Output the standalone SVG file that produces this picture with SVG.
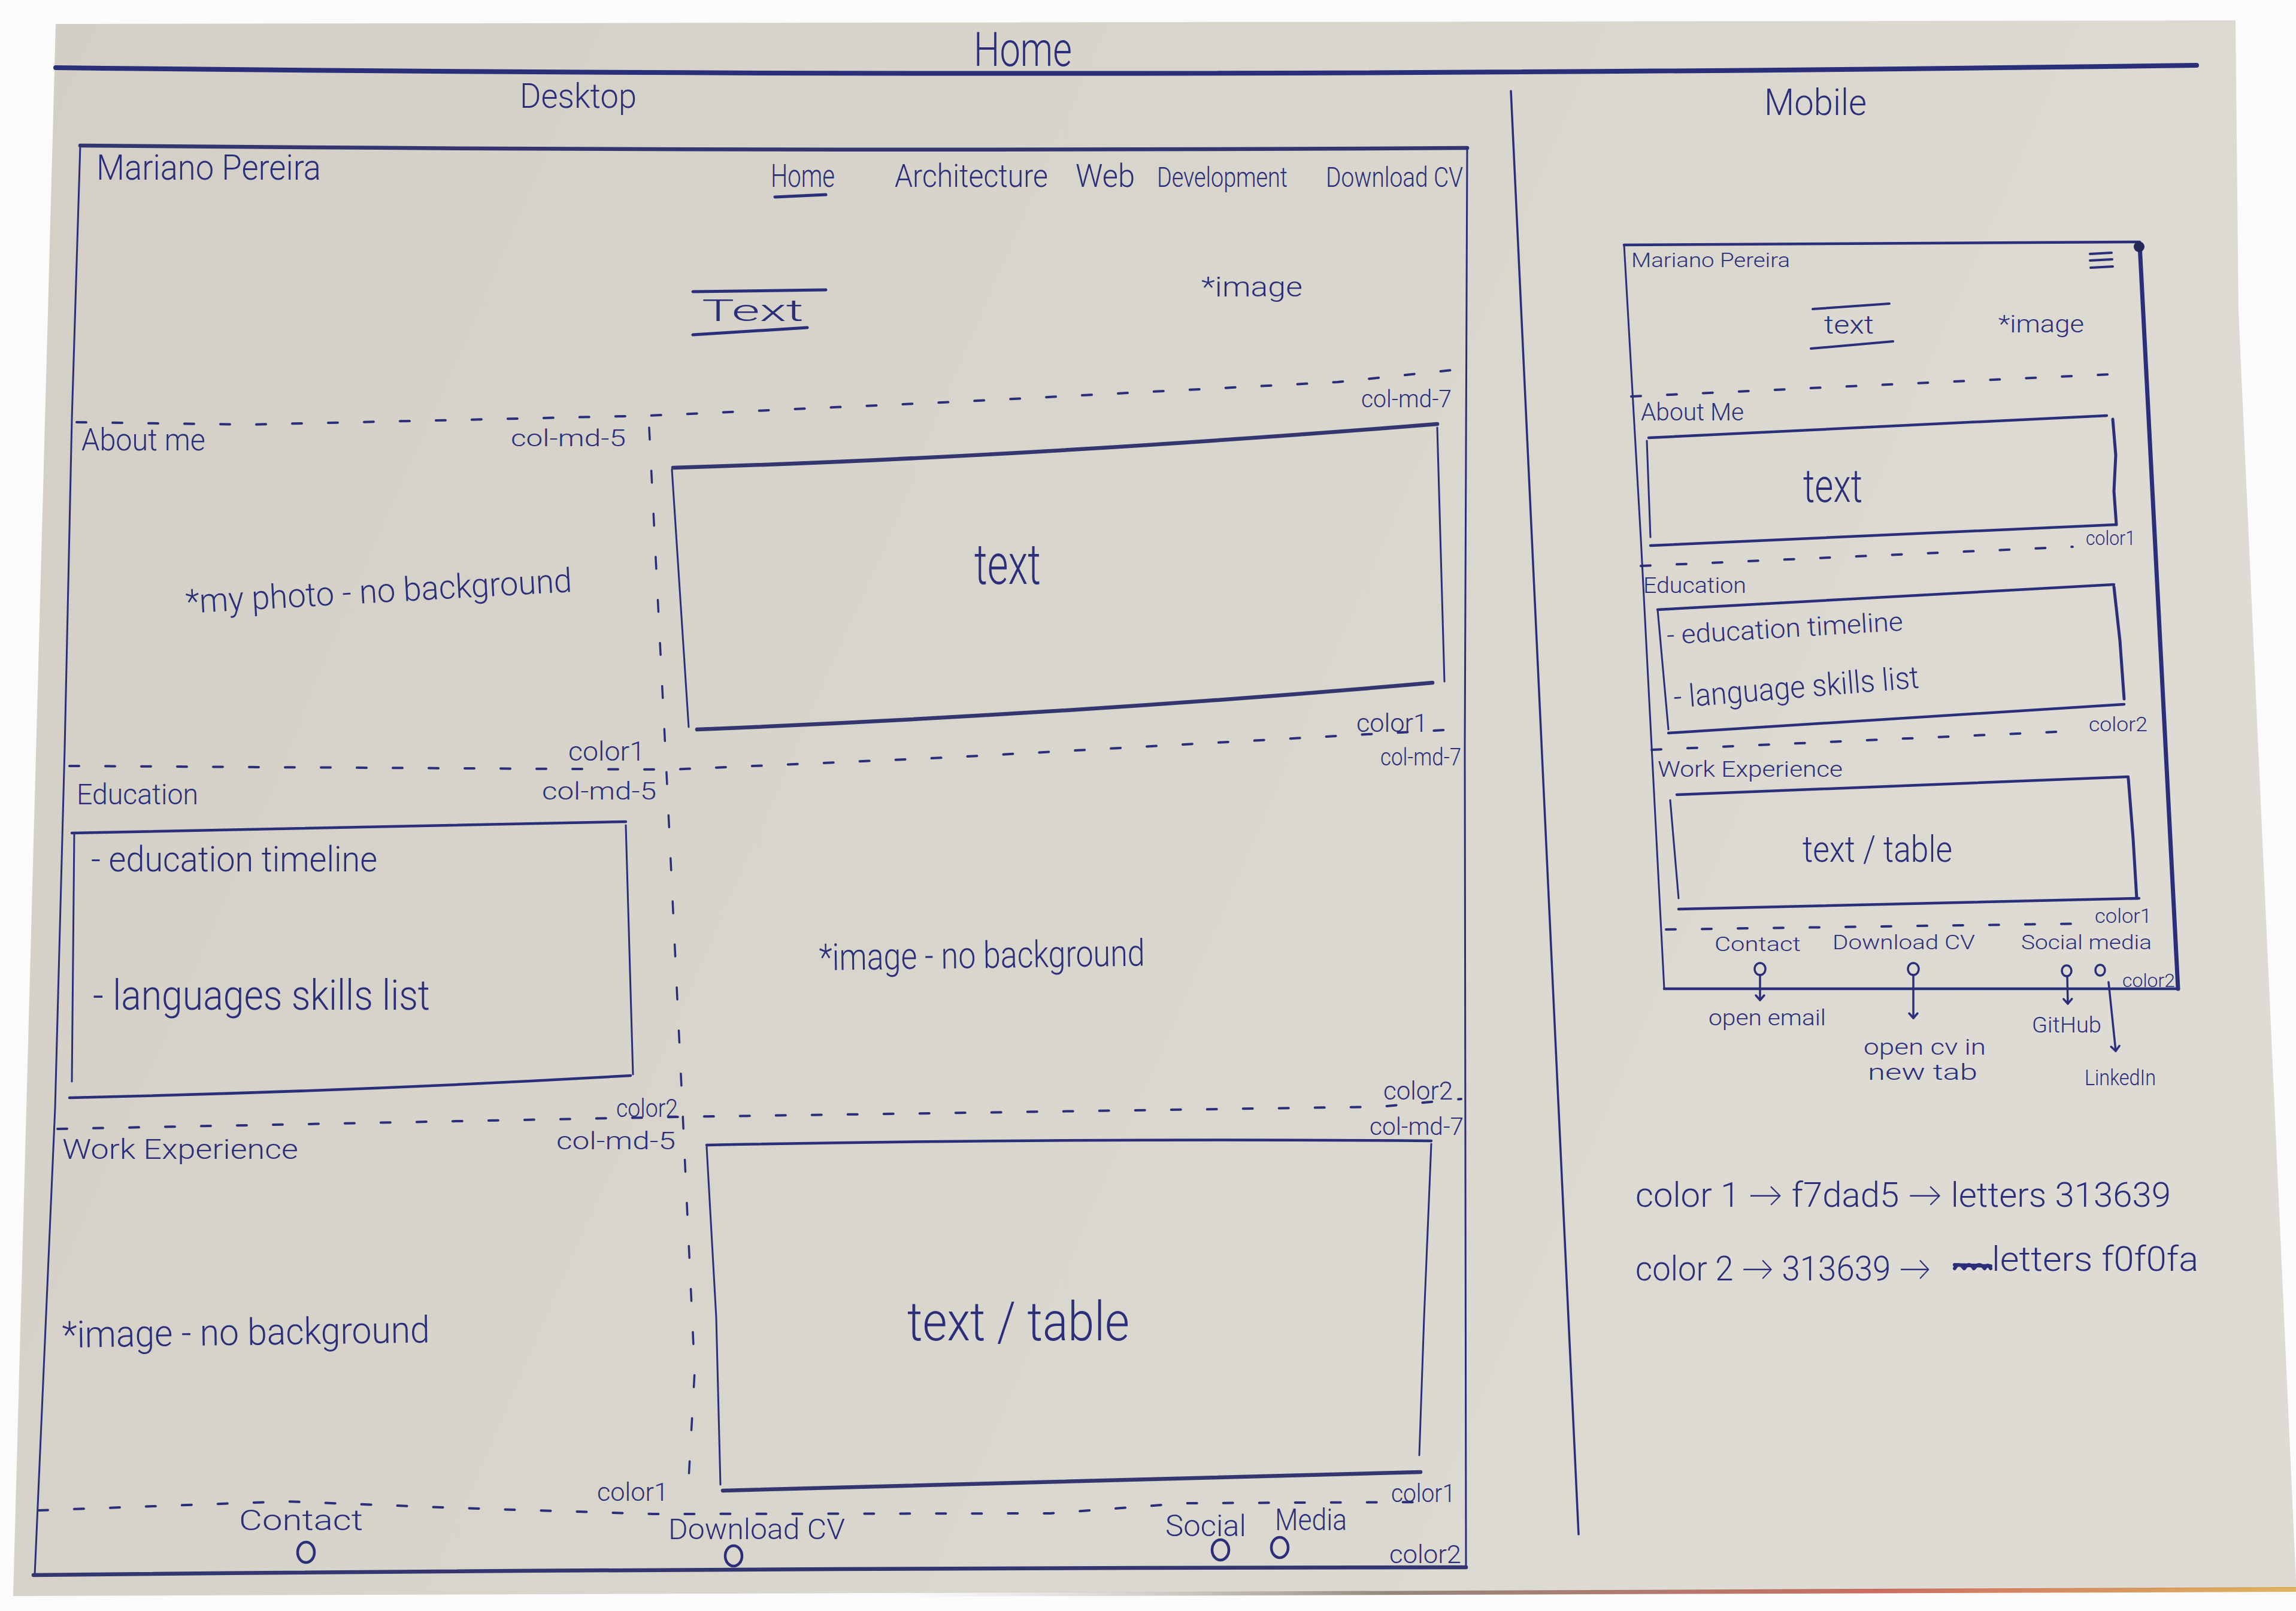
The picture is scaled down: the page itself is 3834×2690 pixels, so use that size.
<svg xmlns="http://www.w3.org/2000/svg" width="3834" height="2690" viewBox="0 0 3834 2690">
  <defs>
    <linearGradient id="paperShade" x1="0" y1="0" x2="1" y2="0.3">
      <stop offset="0" stop-color="#d3cfc6"/>
      <stop offset="0.6" stop-color="#d9d6ce"/>
      <stop offset="1" stop-color="#dedbd4"/>
    </linearGradient>
    <linearGradient id="edgeStrip" x1="0" y1="0" x2="1" y2="0">
      <stop offset="0" stop-color="#b8b4ab" stop-opacity="0"/>
      <stop offset="0.35" stop-color="#7a6a5c"/>
      <stop offset="0.7" stop-color="#c04a3c"/>
      <stop offset="1" stop-color="#d9a23a"/>
    </linearGradient>
    <!-- small open pen-drawn arrowhead, points along the path direction -->
    <marker id="penArrow" viewBox="0 0 20 20" refX="16" refY="10" markerWidth="20" markerHeight="20" markerUnits="userSpaceOnUse" orient="auto">
      <path d="M8,3 L16,10 L8,17" fill="none" stroke="#2b2e78" stroke-width="3.5" stroke-linecap="round" stroke-linejoin="round"/>
    </marker>
    <style>
      .ink { fill: none; stroke: #2b2e78; stroke-linecap: round; stroke-linejoin: round; }
      .hair { stroke-width: 3; }
      .mid { stroke-width: 4.5; }
      .bold { stroke-width: 6.5; stroke: #34366f; }
      .dash { stroke-width: 4; stroke-dasharray: 16 44; }
      .vdash { stroke-width: 3.5; stroke-dasharray: 20 52; }
      .t { font-family: Roboto, Lato, "Liberation Sans", sans-serif; font-weight: 300; fill: #2b2e78; }
    </style>
  </defs>

  <!-- sheet of paper on a white table -->
  <rect x="0" y="0" width="3834" height="2690" fill="#fbfbfb"/>
  <polygon points="93,40 3733,34 3738,520 3834,2640 3834,2652 22,2665" fill="url(#paperShade)"/>
  <polygon points="1500,2660 3834,2650 3834,2658 1500,2666" fill="url(#edgeStrip)" opacity="0.8"/>

  <!-- page heading -->
  <g id="page-title">
    <text class="t" x="1626" y="110" font-size="80" textLength="164" lengthAdjust="spacingAndGlyphs">Home</text>
    <path class="ink" d="M93,113 Q1850,134 3668,109" stroke-width="8" stroke="#3f3f72"/>
    <text class="t" x="868" y="180" font-size="58" textLength="195" lengthAdjust="spacingAndGlyphs">Desktop</text>
    <text class="t" x="2946" y="192" font-size="62" textLength="171" lengthAdjust="spacingAndGlyphs">Mobile</text>
    <path class="ink" d="M2523,152 L2636,2562" stroke-width="3.5"/>
  </g>

  <!-- ===================== desktop layout ===================== -->
  <g id="desktop-frame">
    <path class="ink bold" d="M134,243 Q1290,254 2450,247"/>
    <path class="ink hair" d="M134,243 L120,700 L108,1250 L92,1850 L58,2630"/>
    <path class="ink hair" d="M2450,247 L2446,1250 L2448,2617"/>
    <path class="ink bold" d="M56,2630 Q1250,2618 2448,2617"/>
  </g>

  <g id="desktop-navbar">
    <text class="t" x="161" y="300" font-size="60" textLength="375" lengthAdjust="spacingAndGlyphs">Mariano Pereira</text>
    <text class="t" x="1287" y="312" font-size="54" textLength="107" lengthAdjust="spacingAndGlyphs">Home</text>
    <path class="ink" d="M1294,329 L1379,325" stroke-width="5"/>
    <text class="t" x="1494" y="312" font-size="54" textLength="256" lengthAdjust="spacingAndGlyphs">Architecture</text>
    <text class="t" x="1796" y="312" font-size="54" textLength="99" lengthAdjust="spacingAndGlyphs">Web</text>
    <text class="t" x="1932" y="312" font-size="46" textLength="218" lengthAdjust="spacingAndGlyphs">Development</text>
    <text class="t" x="2214" y="312" font-size="46" textLength="229" lengthAdjust="spacingAndGlyphs">Download CV</text>
  </g>

  <g id="desktop-hero">
    <path class="ink" d="M1157,487 L1379,484" stroke-width="5"/>
    <text class="t" x="1172" y="536" font-size="50" textLength="170" lengthAdjust="spacingAndGlyphs">Text</text>
    <path class="ink" d="M1157,559 L1348,547" stroke-width="5"/>
    <text class="t" x="2006" y="495" font-size="46" textLength="169" lengthAdjust="spacingAndGlyphs">*image</text>
  </g>

  <g id="desktop-about">
    <text class="t" x="136" y="752" font-size="52" textLength="207" lengthAdjust="spacingAndGlyphs">About me</text>
    <text class="t" x="853" y="745" font-size="38" textLength="192" lengthAdjust="spacingAndGlyphs">col-md-5</text>
    <text class="t" x="2273" y="680" font-size="40" textLength="151" lengthAdjust="spacingAndGlyphs">col-md-7</text>
    <text class="t" x="311" y="1024" font-size="56" textLength="646" lengthAdjust="spacingAndGlyphs" transform="rotate(-3.2 311 1024)">*my photo - no background</text>
    <path class="ink bold" d="M1124,781 Q1700,764 2400,708"/>
    <path class="ink hair" d="M2400,714 L2412,1138"/>
    <path class="ink bold" d="M1164,1218 Q1800,1192 2392,1140"/>
    <path class="ink hair" d="M1122,784 L1150,1214"/>
    <text class="t" x="1627" y="975" font-size="95" textLength="111" lengthAdjust="spacingAndGlyphs">text</text>
    <text class="t" x="949" y="1270" font-size="44" textLength="128" lengthAdjust="spacingAndGlyphs">color1</text>
    <text class="t" x="2265" y="1222" font-size="42" textLength="119" lengthAdjust="spacingAndGlyphs">color1</text>
    <text class="t" x="2305" y="1278" font-size="40" textLength="135" lengthAdjust="spacingAndGlyphs">col-md-7</text>
  </g>

  <g id="desktop-education">
    <text class="t" x="128" y="1343" font-size="48" textLength="203" lengthAdjust="spacingAndGlyphs">Education</text>
    <text class="t" x="905" y="1335" font-size="40" textLength="191" lengthAdjust="spacingAndGlyphs">col-md-5</text>
    <path class="ink mid" d="M120,1391 L1045,1372"/>
    <path class="ink hair" d="M1045,1378 L1057,1794"/>
    <path class="ink mid" d="M116,1833 Q600,1822 1053,1796"/>
    <path class="ink hair" d="M124,1391 L120,1806"/>
    <text class="t" x="152" y="1455" font-size="60" textLength="478" lengthAdjust="spacingAndGlyphs">- education timeline</text>
    <text class="t" x="155" y="1686" font-size="70" textLength="563" lengthAdjust="spacingAndGlyphs">- languages skills list</text>
    <text class="t" x="1368" y="1620" font-size="62" textLength="544" lengthAdjust="spacingAndGlyphs" transform="rotate(-0.8 1368 1620)">*image - no background</text>
    <text class="t" x="1029" y="1865" font-size="42" textLength="103" lengthAdjust="spacingAndGlyphs">color2</text>
    <text class="t" x="2310" y="1836" font-size="42" textLength="116" lengthAdjust="spacingAndGlyphs">color2</text>
    <text class="t" x="2287" y="1895" font-size="40" textLength="157" lengthAdjust="spacingAndGlyphs">col-md-7</text>
  </g>

  <g id="desktop-work">
    <text class="t" x="104" y="1935" font-size="46" textLength="394" lengthAdjust="spacingAndGlyphs">Work Experience</text>
    <text class="t" x="929" y="1919" font-size="40" textLength="199" lengthAdjust="spacingAndGlyphs">col-md-5</text>
    <text class="t" x="104" y="2250" font-size="62" textLength="614" lengthAdjust="spacingAndGlyphs" transform="rotate(-0.8 104 2250)">*image - no background</text>
    <path class="ink mid" d="M1180,1912 Q1800,1900 2390,1905"/>
    <path class="ink hair" d="M2390,1910 L2378,2200 L2370,2430"/>
    <path class="ink bold" d="M1207,2489 Q1800,2472 2372,2458"/>
    <path class="ink hair" d="M1180,1915 L1196,2200 L1203,2479"/>
    <text class="t" x="1515" y="2238" font-size="90" textLength="371" lengthAdjust="spacingAndGlyphs">text / table</text>
    <text class="t" x="997" y="2506" font-size="42" textLength="119" lengthAdjust="spacingAndGlyphs">color1</text>
    <text class="t" x="2323" y="2508" font-size="42" textLength="107" lengthAdjust="spacingAndGlyphs">color1</text>
  </g>

  <g id="desktop-footer">
    <text class="t" x="399" y="2555" font-size="48" textLength="207" lengthAdjust="spacingAndGlyphs">Contact</text>
    <ellipse class="ink mid" cx="511" cy="2592" rx="14" ry="17"/>
    <text class="t" x="1116" y="2570" font-size="48" textLength="295" lengthAdjust="spacingAndGlyphs">Download CV</text>
    <ellipse class="ink mid" cx="1225" cy="2598" rx="14" ry="17"/>
    <text class="t" x="1946" y="2565" font-size="50" textLength="135" lengthAdjust="spacingAndGlyphs">Social</text>
    <text class="t" x="2129" y="2555" font-size="50" textLength="120" lengthAdjust="spacingAndGlyphs">Media</text>
    <ellipse class="ink mid" cx="2038" cy="2588" rx="14" ry="17"/>
    <ellipse class="ink mid" cx="2137" cy="2584" rx="14" ry="17"/>
    <text class="t" x="2320" y="2610" font-size="42" textLength="120" lengthAdjust="spacingAndGlyphs">color2</text>
  </g>

  <!-- grid guides of the desktop layout -->
  <g id="desktop-guides">
    <path class="ink dash" d="M128,705 L415,709 L1084,694 L1595,671 L2233,638 L2424,618"/>
    <path class="ink dash" d="M116,1279 L1120,1285 L1580,1265 L2430,1218"/>
    <path class="ink dash" d="M96,1885 L1130,1865 L2305,1848 L2440,1835"/>
    <path class="ink dash" d="M64,2522 L478,2507 L765,2518 L1092,2528 L1754,2527 L1978,2510 L2392,2508"/>
    <path class="ink vdash" d="M1084,714 L1112,1270 L1136,1773 L1160,2290 L1148,2505"/>
  </g>

  <!-- ===================== mobile layout ===================== -->
  <g id="mobile-frame">
    <path class="ink mid" d="M2712,409 L3573,404"/>
    <path class="ink hair" d="M2712,409 L2740,900 L2779,1651"/>
    <path class="ink mid" d="M2779,1651 L3637,1651"/>
    <path class="ink" d="M3573,408 L3637,1651" stroke-width="7" stroke="#262858"/>
    <circle cx="3572" cy="412" r="9" fill="#262858"/>
  </g>

  <g id="mobile-header">
    <text class="t" x="2724" y="446" font-size="34" textLength="265" lengthAdjust="spacingAndGlyphs">Mariano Pereira</text>
    <path class="ink" d="M3490,424 L3526,422 M3490,435 L3527,433 M3491,447 L3528,445" stroke-width="4"/>
    <path class="ink" d="M3027,516 L3155,507" stroke-width="4"/>
    <text class="t" x="3046" y="557" font-size="42" textLength="83" lengthAdjust="spacingAndGlyphs">text</text>
    <path class="ink" d="M3024,582 L3161,570" stroke-width="4"/>
    <text class="t" x="3337" y="555" font-size="40" textLength="143" lengthAdjust="spacingAndGlyphs">*image</text>
  </g>

  <g id="mobile-about">
    <text class="t" x="2740" y="702" font-size="40" textLength="172" lengthAdjust="spacingAndGlyphs">About Me</text>
    <path class="ink mid" d="M2753,731 L3518,694"/>
    <path class="ink" d="M3528,700 L3533,760 L3530,820 L3534,876" stroke-width="5"/>
    <path class="ink mid" d="M2756,911 L3534,876"/>
    <path class="ink hair" d="M2750,736 L2756,897"/>
    <text class="t" x="3011" y="838" font-size="78" textLength="99" lengthAdjust="spacingAndGlyphs">text</text>
    <text class="t" x="3483" y="910" font-size="34" textLength="83" lengthAdjust="spacingAndGlyphs">color1</text>
  </g>

  <g id="mobile-education">
    <text class="t" x="2744" y="990" font-size="36" textLength="172" lengthAdjust="spacingAndGlyphs">Education</text>
    <path class="ink mid" d="M2768,1018 L3530,976"/>
    <path class="ink" d="M3530,980 L3540,1070 L3547,1167" stroke-width="5"/>
    <path class="ink mid" d="M2786,1224 L3547,1176"/>
    <path class="ink hair" d="M2768,1018 L2786,1218"/>
    <text class="t" x="2784" y="1076" font-size="44" textLength="395" lengthAdjust="spacingAndGlyphs" transform="rotate(-3.4 2784 1076)">- education timeline</text>
    <text class="t" x="2796" y="1182" font-size="52" textLength="411" lengthAdjust="spacingAndGlyphs" transform="rotate(-4.7 2796 1182)">- language skills list</text>
    <text class="t" x="3488" y="1221" font-size="34" textLength="98" lengthAdjust="spacingAndGlyphs">color2</text>
  </g>

  <g id="mobile-work">
    <text class="t" x="2768" y="1297" font-size="36" textLength="309" lengthAdjust="spacingAndGlyphs">Work Experience</text>
    <path class="ink mid" d="M2800,1327 L3554,1297"/>
    <path class="ink" d="M3554,1300 L3562,1400 L3568,1500" stroke-width="5"/>
    <path class="ink mid" d="M2803,1518 L3572,1500"/>
    <path class="ink hair" d="M2789,1336 L2803,1500"/>
    <text class="t" x="3010" y="1439" font-size="62" textLength="250" lengthAdjust="spacingAndGlyphs">text / table</text>
    <text class="t" x="3498" y="1541" font-size="34" textLength="95" lengthAdjust="spacingAndGlyphs">color1</text>
  </g>

  <g id="mobile-footer">
    <text class="t" x="2863" y="1588" font-size="34" textLength="144" lengthAdjust="spacingAndGlyphs">Contact</text>
    <text class="t" x="3060" y="1585" font-size="34" textLength="238" lengthAdjust="spacingAndGlyphs">Download CV</text>
    <text class="t" x="3375" y="1585" font-size="34" textLength="218" lengthAdjust="spacingAndGlyphs">Social media</text>
    <ellipse class="ink" cx="2939" cy="1618" rx="9" ry="10" stroke-width="3.5"/>
    <ellipse class="ink" cx="3195" cy="1618" rx="9" ry="10" stroke-width="3.5"/>
    <ellipse class="ink" cx="3451" cy="1621" rx="8" ry="9" stroke-width="3.5"/>
    <ellipse class="ink" cx="3507" cy="1620" rx="8" ry="9" stroke-width="3.5"/>
    <text class="t" x="3544" y="1648" font-size="32" textLength="88" lengthAdjust="spacingAndGlyphs">color2</text>
  </g>

  <g id="mobile-link-targets">
    <text class="t" x="2853" y="1712" font-size="36" textLength="196" lengthAdjust="spacingAndGlyphs">open email</text>
    <text class="t" x="3112" y="1761" font-size="36" textLength="204" lengthAdjust="spacingAndGlyphs">open cv in</text>
    <text class="t" x="3119" y="1803" font-size="36" textLength="183" lengthAdjust="spacingAndGlyphs">new tab</text>
    <text class="t" x="3393" y="1724" font-size="36" textLength="116" lengthAdjust="spacingAndGlyphs">GitHub</text>
    <text class="t" x="3481" y="1812" font-size="36" textLength="119" lengthAdjust="spacingAndGlyphs">LinkedIn</text>
  </g>

  <g id="mobile-guides">
    <path class="ink dash" d="M2724,662 L3544,624"/>
    <path class="ink dash" d="M2740,945 L3461,913"/>
    <path class="ink dash" d="M2758,1252 L3456,1221"/>
    <path class="ink dash" d="M2782,1552 L3491,1542"/>
  </g>

  <!-- link arrows from footer icons to their targets -->
  <g id="connectors">
    <path class="ink" d="M2939,1628 L2939,1670" stroke-width="3.5" marker-end="url(#penArrow)"/>
    <path class="ink" d="M3195,1628 L3195,1700" stroke-width="3.5" marker-end="url(#penArrow)"/>
    <path class="ink" d="M3452,1630 L3453,1676" stroke-width="3.5" marker-end="url(#penArrow)"/>
    <path class="ink" d="M3521,1640 L3533,1755" stroke-width="3.5" marker-end="url(#penArrow)"/>
  </g>

  <!-- colour palette notes -->
  <g id="colour-notes">
    <text class="t" x="2731" y="2015" font-size="58" textLength="894" lengthAdjust="spacingAndGlyphs">color 1 → f7dad5 → letters  313639</text>
    <text class="t" x="2731" y="2138" font-size="58" textLength="494" lengthAdjust="spacingAndGlyphs">color 2 → 313639 →</text>
    <path class="ink" d="M3264,2118 Q3270,2106 3280,2118 Q3288,2106 3296,2118 Q3305,2106 3314,2118 Q3320,2108 3324,2118 M3264,2112 L3324,2114" stroke-width="6"/>
    <text class="t" x="3326" y="2122" font-size="58" textLength="345" lengthAdjust="spacingAndGlyphs">letters f0f0fa</text>
  </g>
</svg>
